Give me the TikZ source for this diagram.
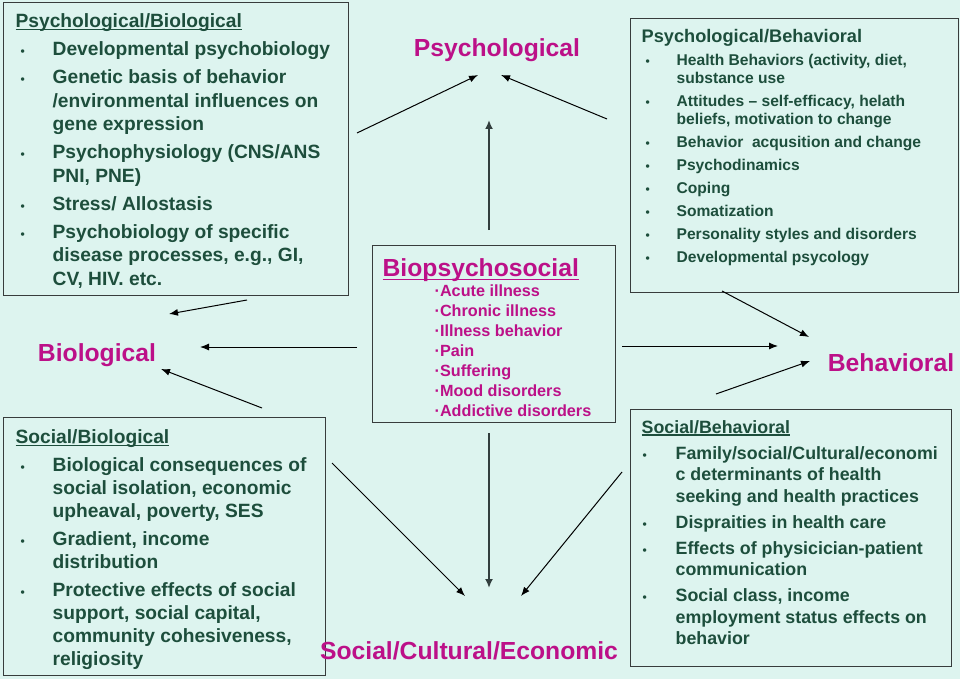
\documentclass[tikz,border=0pt]{standalone}
\usepackage{fontspec}
\setmainfont{Liberation Sans}
\usetikzlibrary{arrows.meta,positioning,calc}
\definecolor{bgmint}{RGB}{221,244,239}
\definecolor{leafgreen}{RGB}{29,78,60}
\definecolor{plum}{RGB}{188,16,136}
\definecolor{frame}{RGB}{55,60,60}
\definecolor{stem}{RGB}{50,62,62}
\tikzset{
	box/.style={draw=frame, line width=1.3pt, inner sep=0pt, anchor=north west,
		text=leafgreen, font=\bfseries},
	arrow/.style={-{Latex[length=9pt,width=7pt]}, line width=1pt},
	thickarrow/.style={-{Latex[length=9pt,width=8pt]}, line width=2pt, draw=stem},
	heading/.style={font=\fontsize{24.7}{28}\selectfont\bfseries, text=plum,
		anchor=base, inner sep=0pt}
}
% bullet item with hanging indent: #1 hang, #2 bullet offset, #3 text
\newcommand{\bulitem}[3]{\par\hangindent=#1\hangafter=1\noindent
	\makebox[#1][l]{\hspace{#2}{\fontsize{12}{12}\selectfont\textbullet}}#3}
% thin underline close to the baseline
\newcommand{\titleline}[1]{\setbox0=\hbox{#1}\rlap{\rule[-0.15em]{\wd0}{0.07em}}\box0}

\begin{document}
\begin{tikzpicture}[x=1pt, y=-1pt]
	\useasboundingbox (0,0) rectangle (960,679);
	\fill[bgmint] (0,0) rectangle (960,679);
	
	%% ── Psychological/Biological (top-left) ─────────────────────────
	\node[box] (psybio) at (3,2) {\parbox[t][293pt][t]{345pt}{%
			\leftskip=12pt \fontsize{19.2}{23.5}\selectfont
			\vspace*{11pt}%
			\noindent\titleline{Psychological/Biological}\setlength{\parskip}{4.5pt}
			\bulitem{37pt}{5pt}{Developmental psychobiology}
			\bulitem{37pt}{5pt}{Genetic basis of behavior\\/environmental influences on\\gene expression}
			\bulitem{37pt}{5pt}{Psychophysiology (CNS/ANS\\PNI, PNE)}
			\bulitem{37pt}{5pt}{Stress/ Allostasis}
			\bulitem{37pt}{5pt}{Psychobiology of specific\\disease processes, e.g., GI,\\CV, HIV. etc.}\par}};
	
	%% ── Psychological/Behavioral (top-right) ────────────────────────
	\node[box] (psybeh) at (630,18) {\parbox[t][274pt][t]{328pt}{%
			\leftskip=11pt \fontsize{15.6}{18}\selectfont
			\vspace*{11pt}%
			\noindent{\fontsize{18.2}{22}\selectfont Psychological/Behavioral\par}%
			\setlength{\parskip}{5pt}
			\bulitem{35pt}{4pt}{Health Behaviors (activity, diet,\\substance use}
			\bulitem{35pt}{4pt}{Attitudes – self-efficacy, helath\\beliefs, motivation to change}
			\bulitem{35pt}{4pt}{Behavior\ \ acqusition and change}
			\bulitem{35pt}{4pt}{Psychodinamics}
			\bulitem{35pt}{4pt}{Coping}
			\bulitem{35pt}{4pt}{Somatization}
			\bulitem{35pt}{4pt}{Personality styles and disorders}
			\bulitem{35pt}{4pt}{Developmental psycology}\par}};
	
	%% ── Social/Biological (bottom-left) ─────────────────────────────
	\node[box] (socbio) at (3,417) {\parbox[t][258pt][t]{322pt}{%
			\leftskip=12pt \fontsize{19.2}{23}\selectfont
			\vspace*{12pt}%
			\noindent\titleline{Social/Biological}\setlength{\parskip}{5pt}
			\bulitem{37pt}{5pt}{Biological consequences of\\social isolation, economic\\upheaval, poverty, SES}
			\bulitem{37pt}{5pt}{Gradient, income\\distribution}
			\bulitem{37pt}{5pt}{Protective effects of social\\support, social capital,\\community cohesiveness,\\religiosity}\par}};
	
	%% ── Social/Behavioral (bottom-right) ────────────────────────────
	\node[box] (socbeh) at (630,409) {\parbox[t][257pt][t]{321pt}{%
			\leftskip=11pt \fontsize{17.8}{21.5}\selectfont
			\vspace*{10.5pt}%
			\noindent\titleline{Social/Behavioral}\setlength{\parskip}{4.5pt}
			\bulitem{34pt}{1pt}{Family/social/Cultural/economi\\c determinants of health\\seeking and health practices}
			\bulitem{34pt}{1pt}{Dispraities in health care}
			\bulitem{34pt}{1pt}{Effects of physicician-patient\\communication}
			\bulitem{34pt}{1pt}{Social class, income\\employment status effects on\\behavior}\par}};
	
	%% ── Biopsychosocial (centre) ────────────────────────────────────
	\node[box, text=plum] (biopsy) at (372,245) {\parbox[t][177pt][t]{243pt}{%
			\leftskip=10pt
			\vspace*{13pt}%
			\noindent{\fontsize{24.7}{28}\selectfont\titleline{Biopsychosocial}\par}%
			\fontsize{16.2}{20}\selectfont\leftskip=62pt
			\noindent ·Acute illness\\·Chronic illness\\·Illness behavior\\·Pain\\%
			·Suffering\\·Mood disorders\\·Addictive disorders\par}};
	
	%% ── the four headings ───────────────────────────────────────────
	\node[heading] (psy) at (497,57) {Psychological};
	\node[heading] (bio) at (97,361) {Biological};
	\node[heading] (beh) at (891,371) {Behavioral};
	\node[heading] (sce) at (469,659) {Social/Cultural/Economic};
	
	%% ── arrow ends ──────────────────────────────────────────────────
	\coordinate (psybio-psy) at (357,133);
	\coordinate (psy-in1) at (478,75);
	\coordinate (psybeh-psy) at (607,119);
	\coordinate (psy-in2) at (501,75);
	\coordinate (biopsy-up) at (489,230);
	\coordinate (psy-in3) at (489,120);
	
	\coordinate (psybio-bio) at (247,300);
	\coordinate (bio-in1) at (169,314);
	\coordinate (biopsy-left) at (357,347);
	\coordinate (bio-in2) at (200,347);
	\coordinate (socbio-bio) at (262,408);
	\coordinate (bio-in3) at (161,369);
	
	\coordinate (psybeh-beh) at (722,291);
	\coordinate (beh-in1) at (809,337);
	\coordinate (biopsy-right) at (622,346);
	\coordinate (beh-in2) at (778,346);
	\coordinate (socbeh-beh) at (716,394);
	\coordinate (beh-in3) at (810,361);
	
	\coordinate (socbio-sce) at (332,463);
	\coordinate (sce-in1) at (465,596);
	\coordinate (biopsy-down) at (489,433);
	\coordinate (sce-in2) at (489,588);
	\coordinate (socbeh-sce) at (622,472);
	\coordinate (sce-in3) at (521,596);
	
	%% ── arrows ──────────────────────────────────────────────────────
	\draw[arrow] (psybio-psy) -- (psy-in1);
	\draw[arrow] (psybeh-psy) -- (psy-in2);
	\draw[thickarrow] (biopsy-up) -- (psy-in3);
	
	\draw[arrow] (psybio-bio) -- (bio-in1);
	\draw[arrow] (biopsy-left) -- (bio-in2);
	\draw[arrow] (socbio-bio) -- (bio-in3);
	
	\draw[arrow] (psybeh-beh) -- (beh-in1);
	\draw[arrow] (biopsy-right) -- (beh-in2);
	\draw[arrow] (socbeh-beh) -- (beh-in3);
	
	\draw[arrow] (socbio-sce) -- (sce-in1);
	\draw[thickarrow] (biopsy-down) -- (sce-in2);
	\draw[arrow] (socbeh-sce) -- (sce-in3);
	
\end{tikzpicture}
\end{document}
